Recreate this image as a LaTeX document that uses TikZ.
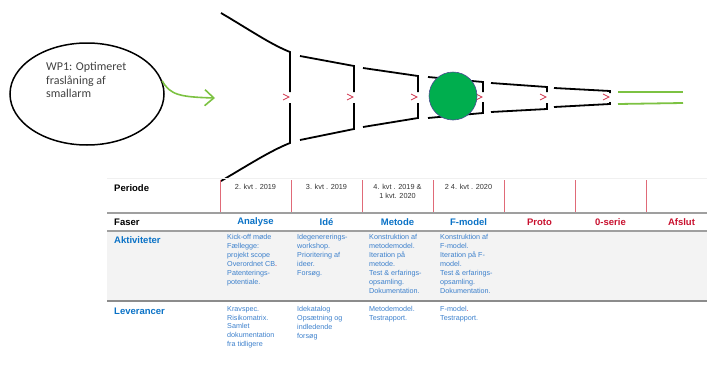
\documentclass[tikz,border=0pt]{standalone}
\usepackage{fontspec}
\setmainfont{Liberation Sans}
\newfontfamily\ellfont{Carlito}
\usetikzlibrary{shapes.geometric,arrows.meta}
\definecolor{phblue}{HTML}{0A72C6}
\definecolor{phred}{HTML}{C8102E}
\definecolor{txtblue}{HTML}{3C80CC}
\definecolor{vred}{HTML}{E06A78}
\definecolor{lgreen}{HTML}{7CC242}
\definecolor{dgreen}{HTML}{00AE4E}
\definecolor{rowgray}{HTML}{F3F3F3}
\tikzset{
  funnel/.style={line width=1.8pt, black},
  chev/.style={draw=phred!85, line width=0.8pt},
  vsep/.style={draw=vred, line width=1pt},
  hsep/.style={draw=gray!75, line width=1.8pt},
  pertxt/.style={font=\fontsize{7.3}{8.8}\selectfont, text=black!80, align=center, inner sep=0pt},
  rowhead/.style={font=\fontsize{9.5}{11}\selectfont\bfseries, anchor=west, inner sep=0pt},
  phasename/.style={font=\fontsize{9.5}{11}\selectfont\bfseries, inner sep=0pt},
  celltxt/.style={font=\fontsize{7.2}{8.9}\selectfont, text=txtblue, align=left, anchor=north west, inner sep=0pt},
}
\begin{document}
\begin{tikzpicture}[x=1pt,y=-1pt]
\useasboundingbox (0,0) rectangle (707,367);

% ---- WP1 ellipse and arrow
\node[ellipse, draw, line width=1.5pt, minimum width=154pt, minimum height=102pt, inner sep=0pt] (wp1) at (87,94) {};
\node[anchor=north west, inner sep=0pt, align=left, text=black!75,
      font=\ellfont\fontsize{12}{13.6}\selectfont] (wp1txt) at (46,62)
      {WP1: Optimeret\\fraslåning af\\smallarm};
\coordinate (arrtip) at (215,98);
\draw[lgreen, line width=1.6pt, -{Straight Barb[length=9pt,width=16pt,line width=1.6pt]}]
  (wp1.10) .. controls (170,95) and (180,97) .. (arrtip);

% ---- funnel segments
\draw[funnel] (221,13) .. controls (250,30) and (270,44) .. (290,52) -- (290,92);
\draw[funnel] (290,103) -- (290,143) .. controls (270,151) and (250,164) .. (221,181);
\draw[funnel] (300,56) -- (354,66) -- (354,92);
\draw[funnel] (354,103) -- (354,129) -- (300,140);
\draw[funnel] (363,68) -- (418,76) -- (418,92);
\draw[funnel] (418,103) -- (418,118) -- (363,127);
\draw[funnel] (428,77) -- (483,82) -- (483,92);
\draw[funnel] (483,102) -- (483,113) -- (428,118);
\draw[funnel] (491,83) -- (547,87) -- (547,92);
\draw[funnel] (547,103) -- (547,109) -- (491,112);
\draw[funnel] (554,88) -- (610,91) -- (610,93);
\draw[funnel] (610,102) -- (610,104) -- (554,107);
\draw[lgreen, line width=1.8pt] (618,92) -- (683,92);
\draw[lgreen, line width=1.8pt] (618,104) -- (683,103);
\foreach \xv in {290,354,418,483,547,610}
  \draw[chev] (\xv-7,94) -- (\xv-1,97) -- (\xv-7,100);

\node[circle, fill=dgreen, draw=blue!40!black!70, line width=0.6pt, minimum size=48pt, inner sep=0pt] (milestone) at (453,96) {};

% ---- table
\fill[rowgray] (107,231) rectangle (707,300);
\draw[gray!12, line width=0.6pt] (107,178) -- (707,178);
\foreach \xv in {220,291,362,433,504,575,646}
  \draw[vsep] (\xv,180) -- (\xv,213);
\draw[hsep] (107,213) -- (707,213);
\draw[hsep] (107,231) -- (707,231);
\draw[hsep, draw=gray!90] (107,301) -- (707,301);

\node[rowhead] (periode) at (114,188) {Periode};
\node[pertxt] (p1) at (255.5,187) {2. kvt . 2019};
\node[pertxt] (p2) at (326.5,187) {3. kvt . 2019};
\node[pertxt] (p3) at (397.5,191) {4. kvt . 2019 \&\\1 kvt. 2020};
\node[pertxt] (p4) at (468.5,187) {2 4. kvt . 2020};

\node[rowhead] (faser) at (114,222) {Faser};
\node[phasename, text=phblue] (f1) at (255.5,222) {Analyse};
\node[phasename, text=phblue] (f2) at (326.5,222) {Idé};
\node[phasename, text=phblue] (f3) at (397.5,222) {Metode};
\node[phasename, text=phblue] (f4) at (468.5,222) {F-model};
\node[phasename, text=phred] (f5) at (539.5,222) {Proto};
\node[phasename, text=phred] (f6) at (610.5,222) {0-serie};
\node[phasename, text=phred] (f7) at (681.5,222) {Afslut};

\node[rowhead, text=phblue] (akt) at (114,240) {Aktiviteter};
\node[celltxt] (a1) at (227,234.5) {Kick-off møde\\Fællegge:\\projekt scope\\Overordnet CB{\color{phred}.}\\Patenterings-\\potentiale.};
\node[celltxt] (a2) at (297,234.5) {Idegenererings-\\workshop.\\Prioritering af\\ideer.\\Forsøg.};
\node[celltxt] (a3) at (369,234.5) {Konstruktion af\\metodemodel.\\Iteration på\\metode.\\Test \& erfarings-\\opsamling.\\Dokumentation.};
\node[celltxt] (a4) at (440,234.5) {Konstruktion af\\F-model.\\Iteration på F-\\model.\\Test \& erfarings-\\opsamling.\\Dokumentation.};

\node[rowhead, text=phblue] (lev) at (114,311) {Leverancer};
\node[celltxt] (l1) at (227,306) {Kravspec.\\Risikomatrix.\\Samlet\\dokumentation\\fra tidligere};
\node[celltxt] (l2) at (297,306) {Idekatalog\\Opsætning og\\indledende\\forsøg};
\node[celltxt] (l3) at (369,306) {Metodemodel.\\Testrapport.};
\node[celltxt] (l4) at (440,306) {F-model{\color{phred}.}\\Testrapport.};
\end{tikzpicture}
\end{document}
